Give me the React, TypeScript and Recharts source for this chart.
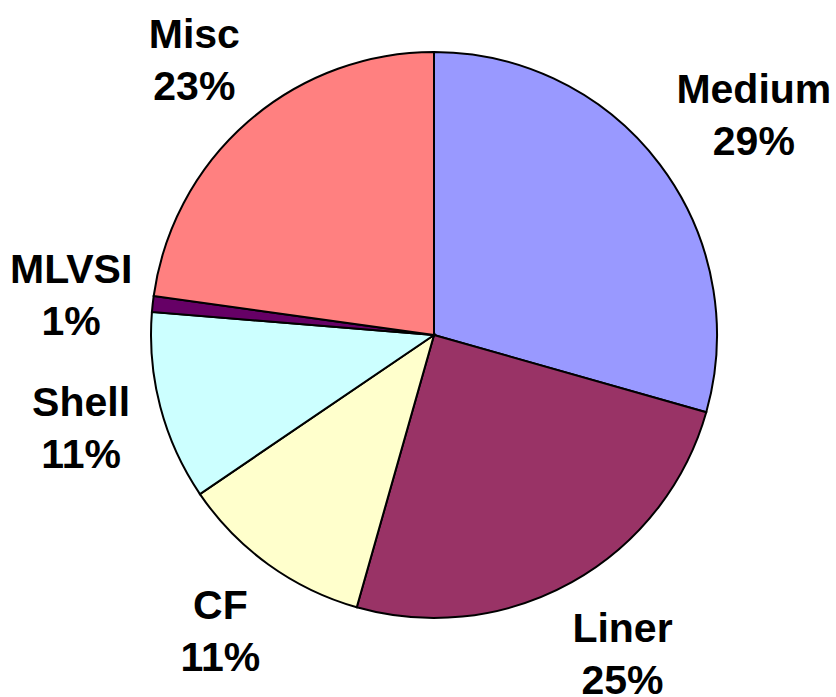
import { PieChart, Pie, Cell } from "recharts";

const CATEGORIES = ["Medium", "Liner", "CF", "Shell", "MLVSI", "Misc"];
const VALUES = [29.4, 25.0, 11.1, 10.8, 0.9, 22.8];
const COLORS = ["#9999FF", "#993366", "#FFFFCC", "#CCFFFF", "#660066", "#FF8080"];

const data = CATEGORIES.map((name, i) => ({ name, value: VALUES[i] }));

const RAD = Math.PI / 180;
const LABEL_RADIUS = 365;

function renderLabel(props: any) {
  const { cx, cy, midAngle, percent, name } = props;
  const cos = Math.cos(-midAngle * RAD);
  const sin = Math.sin(-midAngle * RAD);
  // labels on the right side sit a bit further out
  const rx = LABEL_RADIUS + 45 * Math.max(cos, 0);
  const x = cx + rx * cos;
  const y = cy + LABEL_RADIUS * sin;
  return (
    <text
      x={x}
      y={y}
      textAnchor="middle"
      fontFamily="'Liberation Sans', Arial, sans-serif"
      fontWeight="bold"
      fontSize={41}
      fill="#000"
    >
      <tspan x={x} y={y - 12}>
        {name}
      </tspan>
      <tspan x={x} y={y + 40}>
        {`${Math.round(percent * 100)}%`}
      </tspan>
    </text>
  );
}

export default function App() {
  return (
    <div style={{ position: "absolute", left: 0, top: 0, background: "#fff" }}>
      <PieChart
        width={836}
        height={697}
        margin={{ top: 0, right: 0, bottom: 0, left: 0 }}
      >
        <Pie
          data={data}
          dataKey="value"
          nameKey="name"
          cx={434}
          cy={335}
          outerRadius={283}
          startAngle={90}
          endAngle={-270}
          stroke="#000"
          strokeWidth={2}
          label={renderLabel}
          labelLine={false}
          isAnimationActive={false}
        >
          {data.map((_, i) => (
            <Cell key={i} fill={COLORS[i]} />
          ))}
        </Pie>
      </PieChart>
    </div>
  );
}
